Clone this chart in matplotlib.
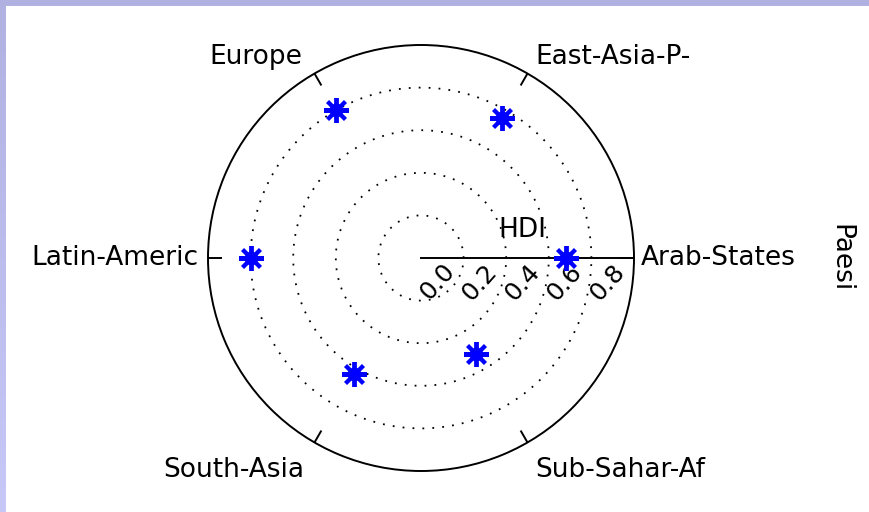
import numpy as np
import matplotlib
matplotlib.use("Agg")
import matplotlib.pyplot as plt
from matplotlib.patches import Rectangle
from matplotlib.colors import LinearSegmentedColormap
from matplotlib.transforms import offset_copy

# Human Development Index by world region
regions = ["Arab-States", "East-Asia-P-", "Europe", "Latin-Americ", "South-Asia", "Sub-Sahar-Af"]
hdi = [0.68, 0.76, 0.80, 0.80, 0.63, 0.52]

ring_values = [0.2, 0.4, 0.6, 0.8]
tick_values = [0.0, 0.2, 0.4, 0.6, 0.8]
tick_labels = ["0.0", "0.2", "0.4", "0.6", "0.8"]
radial_label = "HDI"
side_label = "Paesi"

W, H = 869, 512
fig = plt.figure(figsize=(W / 100, H / 100), dpi=100)
fig.patch.set_facecolor("white")

# lavender frame along the top and left edges
fig.add_artist(Rectangle((0, 1 - 6 / H), 1, 6 / H, transform=fig.transFigure,
                         facecolor="#b1b1e1", edgecolor="none", zorder=5))
frame = fig.add_axes([0, 0, 6 / W, 1 - 6 / H])
frame.imshow(np.linspace(0, 1, 256)[:, None], origin="lower", aspect="auto",
             cmap=LinearSegmentedColormap.from_list("frame", ["#c8c8f8", "#b2b2e2"]))
frame.set_axis_off()

# polar axes: centre (421, 258) px, radius 213 px
cx, cy, R = 421, 258, 213
ax = fig.add_axes([(cx - R) / W, (H - cy - R) / H, 2 * R / W, 2 * R / H], projection="polar")
ax.set_ylim(0, 1)
ax.set_xticks([])
ax.set_yticks([])
ax.grid(False)
ax.set_facecolor("none")
ax.spines["polar"].set_linewidth(1.4)
ax.spines["polar"].set_color("black")

angles = np.deg2rad(np.arange(len(regions)) * 360.0 / len(regions))

# dotted rings
th = np.linspace(0, 2 * np.pi, 500)
for v in ring_values:
    ax.plot(th, np.full_like(th, v), color="black", lw=1.3, ls=(0, (1, 4.5)))

# inward ticks on the outer circle and the radial axis
for a in angles:
    ax.plot([a, a], [0.94, 1.0], color="black", lw=1.4)
ax.plot([0, 0], [0, 1], color="black", lw=1.4)

# data points
ax.plot(angles, hdi, ls="none", marker=(8, 2, 0), ms=18, mew=2.8, color="blue", zorder=6)
ax.plot(angles, hdi, ls="none", marker="o", ms=9, color="blue", zorder=6)

fs = 19

# radial tick labels below the axis
tick_tr = offset_copy(ax.transData, fig=fig, x=16, y=-24, units="dots")
for v, lab in zip(tick_values, tick_labels):
    ax.text(0, v, lab, transform=tick_tr, rotation=48, ha="center", va="center", fontsize=18)

ax.text(0, 0.474, radial_label, transform=offset_copy(ax.transData, fig=fig, x=0, y=28, units="dots"),
        ha="center", va="center", fontsize=fs)

# region labels around the circle
label_layout = {
    0: (7, 0, "left", "center"),
    1: (8, 10, "left", "baseline"),
    2: (-12, 10, "right", "baseline"),
    3: (-10, 0, "right", "center"),
    4: (-10, -15, "right", "top"),
    5: (8, -15, "left", "top"),
}
for i, (a, name) in enumerate(zip(angles, regions)):
    dx, dy, ha, va = label_layout[i]
    ax.text(a, 1.0, name, transform=offset_copy(ax.transData, fig=fig, x=dx, y=dy, units="dots"),
            ha=ha, va=va, fontsize=fs)

fig.text(840 / W, 1 - 258 / H, side_label, rotation=270, ha="center", va="center", fontsize=fs)

fig.savefig("out.png", dpi=100)
